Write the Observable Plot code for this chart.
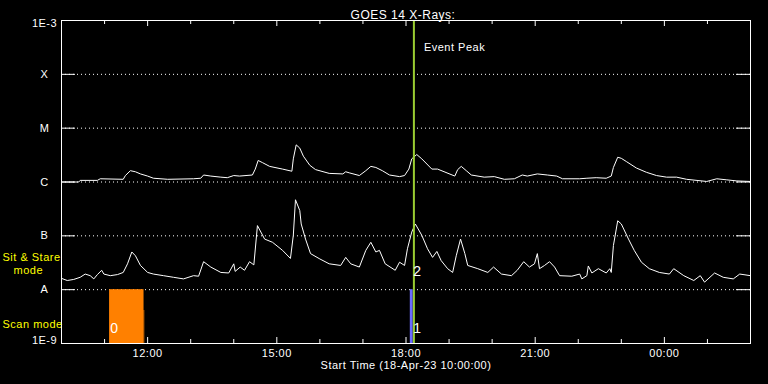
<!DOCTYPE html>
<html><head><meta charset="utf-8">
<script src="https://cdn.jsdelivr.net/npm/d3@7"></script>
<script src="https://cdn.jsdelivr.net/npm/@observablehq/plot@0.6"></script>
<style>html,body{margin:0;padding:0;background:#000;}#chart{width:768px;height:384px;}</style>
</head><body><div id="chart"></div>
<script>
// ---- data ----
const titleText = "GOES 14 X-Rays:";
const captionText = "Start Time (18-Apr-23 10:00:00)";
const startTime = "2023-04-18T10:00:00Z";
const spanMinutes = 960;

// GOES long channel (1-8 A): minutes after start, log10 flux (W/m^2)
const longMin = [0,24,26,50,54,86,89,96,103,110,120,128,148,184,194,198,208,222,231,240,248,266,270,274,280,290,308,321,323,327,332,337,346,354,373,392,396,401,415,424,431,438,447,457,471,478,484,488,495,502,516,524,548,552,557,564,571,589,603,617,631,642,649,663,677,690,698,722,732,745,759,766,769,775,780,787,801,815,829,843,857,871,899,913,927,941,960];
const longLog = [-6.00,-6.00,-5.97,-5.97,-5.94,-5.95,-5.88,-5.79,-5.81,-5.85,-5.89,-5.93,-5.95,-5.94,-5.93,-5.87,-5.89,-5.91,-5.92,-5.88,-5.89,-5.87,-5.76,-5.60,-5.64,-5.71,-5.76,-5.80,-5.57,-5.31,-5.37,-5.52,-5.69,-5.77,-5.84,-5.85,-5.81,-5.83,-5.88,-5.79,-5.71,-5.73,-5.79,-5.87,-5.90,-5.88,-5.76,-5.57,-5.49,-5.57,-5.76,-5.76,-5.89,-5.77,-5.71,-5.79,-5.87,-5.91,-5.90,-5.95,-5.94,-5.87,-5.89,-5.85,-5.87,-5.89,-5.94,-5.94,-5.93,-5.92,-5.93,-5.89,-5.73,-5.54,-5.56,-5.62,-5.74,-5.82,-5.88,-5.91,-5.91,-5.95,-5.99,-5.94,-5.96,-5.98,-5.99];

// GOES short channel (0.5-4 A)
const shortMin = [0,8,17,26,33,40,45,50,56,59,68,78,86,92,98,103,110,120,128,142,156,170,184,191,198,208,222,233,240,242,249,255,262,268,273,283,294,308,319,323,326,332,334,340,347,360,373,389,396,403,415,424,431,438,443,451,465,471,478,482,488,493,502,510,517,523,529,538,545,550,556,562,566,580,594,602,613,627,635,644,652,659,663,666,673,680,687,694,711,722,725,732,734,739,748,759,764,766,769,775,780,790,798,808,819,833,847,853,867,881,890,896,910,922,936,945,960];
const shortLog = [-7.79,-7.83,-7.81,-7.77,-7.71,-7.74,-7.80,-7.72,-7.64,-7.71,-7.74,-7.72,-7.68,-7.52,-7.30,-7.37,-7.55,-7.68,-7.71,-7.74,-7.77,-7.80,-7.74,-7.75,-7.48,-7.58,-7.68,-7.69,-7.52,-7.66,-7.58,-7.64,-7.48,-7.54,-6.81,-7.06,-7.12,-7.27,-7.42,-6.99,-6.33,-6.53,-6.78,-7.06,-7.33,-7.43,-7.52,-7.55,-7.40,-7.52,-7.58,-7.27,-7.12,-7.30,-7.27,-7.52,-7.64,-7.49,-7.55,-7.24,-6.93,-6.78,-6.99,-7.24,-7.40,-7.29,-7.46,-7.61,-7.68,-7.37,-7.06,-7.33,-7.55,-7.61,-7.68,-7.58,-7.71,-7.74,-7.64,-7.48,-7.58,-7.52,-7.33,-7.61,-7.55,-7.48,-7.58,-7.74,-7.75,-7.71,-7.80,-7.74,-7.56,-7.69,-7.61,-7.69,-7.61,-7.68,-7.18,-6.72,-6.78,-7.06,-7.27,-7.49,-7.61,-7.68,-7.71,-7.61,-7.74,-7.83,-7.74,-7.86,-7.69,-7.77,-7.80,-7.71,-7.74];

// y levels
const levelValues = [1e-3,1e-4,1e-5,1e-6,1e-7,1e-8,1e-9];
const levelLabels = ["1E-3","X","M","C","B","A","1E-9"];
const gridValues = [1e-4,1e-5,1e-6,1e-7,1e-8];

// x ticks (minutes after start)
const majorTickMin = [120,300,480,660,840];
const majorTickLabels = ["12:00","15:00","18:00","21:00","00:00"];
const minorTickMin = [60,180,240,360,420,540,600,720,780,900];

// observing-mode blocks
const scanStart = [67,115,486];
const scanEnd = [115,116,490];
const scanTop = [1e-8,4.1e-9,1e-8];
const scanColor = ["#ff8000","#ff8000","#6a6aff"];

// event
const eventPeakMin = 491;
const eventLabels = ["0","1","2"];
const eventMin = [68,490,490];

// ---- build ----
const t0 = new Date(startTime).getTime();
const toDate = m => new Date(t0 + m * 60000);
const longData = longMin.map((m, i) => ({t: toDate(m), f: Math.pow(10, longLog[i])}));
const shortData = shortMin.map((m, i) => ({t: toDate(m), f: Math.pow(10, shortLog[i])}));
const scanData = scanStart.map((s, i) => ({s: toDate(s), e: toDate(scanEnd[i]), top: scanTop[i], c: scanColor[i]}));

const chart = Plot.plot({
  width: 768, height: 384,
  marginLeft: 61, marginRight: 18, marginTop: 20, marginBottom: 41,
  style: {background: "#000", color: "#fff", fontFamily: "'Liberation Sans', Arial, sans-serif", fontSize: "11px", letterSpacing: "0.5px"},
  x: {type: "utc", domain: [toDate(0), toDate(spanMinutes)], axis: null},
  y: {type: "log", domain: [1e-9, 1e-3], axis: null},
  marks: [
    Plot.ruleY(gridValues, {y: d => d, stroke: "#fff", strokeDasharray: "1,3"}),
    ...scanData.map(d => Plot.rect([d], {x1: "s", x2: "e", y1: () => 1e-9, y2: "top", fill: d.c})),
    Plot.line(longData, {x: "t", y: "f", stroke: "#fff", strokeWidth: 1}),
    Plot.line(shortData, {x: "t", y: "f", stroke: "#fff", strokeWidth: 1}),
    Plot.ruleX([eventPeakMin], {x: m => toDate(m), stroke: "#9acd32", strokeWidth: 2}),
    // y ticks, left and right, inward
    Plot.tickY(levelValues, {y: d => d, stroke: "#fff", insetRight: 675}),
    Plot.tickY(levelValues, {y: d => d, stroke: "#fff", insetLeft: 675}),
    // x ticks, top and bottom, inward
    Plot.tickX(majorTickMin, {x: m => toDate(m), stroke: "#fff", insetBottom: 317}),
    Plot.tickX(majorTickMin, {x: m => toDate(m), stroke: "#fff", insetTop: 317}),
    Plot.tickX(minorTickMin, {x: m => toDate(m), stroke: "#fff", insetBottom: 319}),
    Plot.tickX(minorTickMin, {x: m => toDate(m), stroke: "#fff", insetTop: 319}),
    Plot.frame({stroke: "#fff"}),
    // x tick labels
    Plot.text(majorTickMin, {x: m => toDate(m), text: (d, i) => majorTickLabels[i], frameAnchor: "bottom", dy: 13}),
    Plot.text([captionText], {text: d => d, frameAnchor: "bottom", dy: 25}),
    Plot.text([titleText], {text: d => d, frameAnchor: "top", dy: -10, dx: -3, fontSize: 12}),
    // y labels
    Plot.text(levelValues.slice(1, 6), {y: d => d, text: (d, i) => levelLabels[i + 1], frameAnchor: "left", dx: -17, textAnchor: "middle"}),
    Plot.text([levelValues[0]], {y: d => d, text: () => levelLabels[0], frameAnchor: "left", dx: -17, dy: 3, textAnchor: "middle"}),
    Plot.text([levelValues[6]], {y: d => d, text: () => levelLabels[6], frameAnchor: "left", dx: -17, dy: -3, textAnchor: "middle"}),
    // mode labels
    Plot.text([1e-8], {y: d => d, text: () => "Sit & Stare", frameAnchor: "left", dx: -59, dy: -32, textAnchor: "start", fill: "#ffff00"}),
    Plot.text([1e-8], {y: d => d, text: () => "mode", frameAnchor: "left", dx: -48, dy: -19, textAnchor: "start", fill: "#ffff00"}),
    Plot.text([1e-9], {y: d => d, text: () => "Scan mode", frameAnchor: "left", dx: -59, dy: -19.5, textAnchor: "start", fill: "#ffff00"}),
    // event annotations
    Plot.text([eventPeakMin], {x: m => toDate(m), text: () => "Event Peak", frameAnchor: "top", dy: 23, dx: 10, textAnchor: "start"}),
    Plot.text(eventMin.slice(0, 2), {x: m => toDate(m), text: (d, i) => eventLabels[i], frameAnchor: "bottom", dy: -10.5, textAnchor: "start", fontSize: 14}),
    Plot.text([1e-8], {x: () => toDate(eventMin[2]), y: d => d, text: () => eventLabels[2], dy: -18, textAnchor: "start", fontSize: 14})
  ]
});
document.getElementById("chart").appendChild(chart);
</script>
</body></html>
